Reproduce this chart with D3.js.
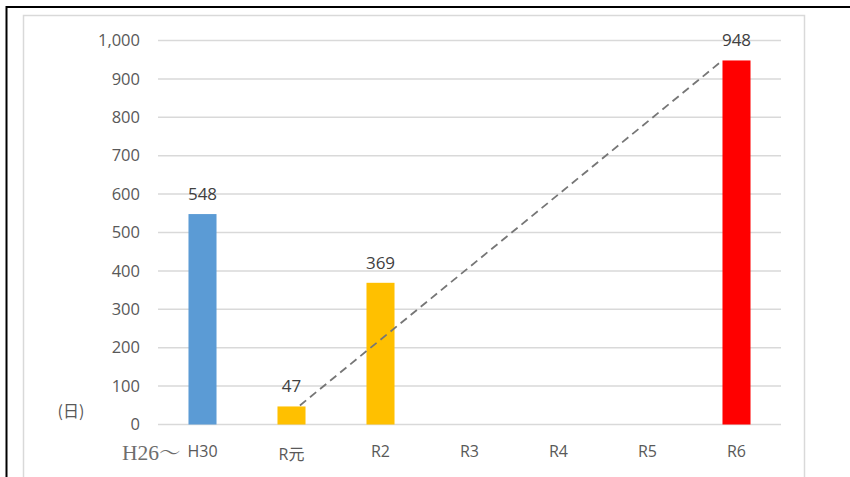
<!DOCTYPE html>
<html>
<head>
<meta charset="utf-8">
<script src="https://cdn.jsdelivr.net/npm/d3@7/dist/d3.min.js"></script>
<style>
  html, body { margin: 0; padding: 0; background: #fff; }
  svg { display: block; }
</style>
</head>
<body>
<svg id="chart" width="850" height="477"></svg>
<script>
// Days per fiscal year
const categories = ["H30", "R元", "R2", "R3", "R4", "R5", "R6"];
const values = [548, 47, 369, null, null, null, 948];
const barColors = ["#5B9BD5", "#FFC000", "#FFC000", "#FFC000", "#FFC000", "#FFC000", "#FF0000"];
const yTicks = [0, 100, 200, 300, 400, 500, 600, 700, 800, 900, 1000];
const yUnit = "(日)";
const periodPrefix = "H26～";
// Dashed trend guide between these two years
const trendFrom = "R元";
const trendTo = "R6";

const svg = d3.select("#chart");
const W = 850, H = 477;
const plot = { left: 158, right: 781, top: 40.5, bottom: 424.5 };

// Outer frame (black, top and left) and inner chart area border (grey)
svg.append("path")
  .attr("d", `M6.5,${H} V7 H${W}`)
  .attr("fill", "none").attr("stroke", "#000").attr("stroke-width", 2);
svg.append("path")
  .attr("d", `M23.5,${H + 5} V15.5 H804.5 V${H + 5}`)
  .attr("fill", "none").attr("stroke", "#D9D9D9").attr("stroke-width", 1.5);

const x = d3.scaleBand()
  .domain(categories)
  .range([plot.left, plot.right])
  .paddingInner(0.685)
  .paddingOuter(0.3425);

const y = d3.scaleLinear().domain([0, 1000]).range([plot.bottom, plot.top]);

// Horizontal gridlines
svg.append("g")
  .selectAll("line")
  .data(yTicks)
  .join("line")
  .attr("x1", plot.left).attr("x2", plot.right)
  .attr("y1", d => y(d)).attr("y2", d => y(d))
  .attr("stroke", "#D9D9D9").attr("stroke-width", 1.5);

// Y axis labels
const yAxis = d3.axisLeft(y).tickValues(yTicks).tickFormat(d3.format(",")).tickSize(0).tickPadding(0);
const gy = svg.append("g").attr("transform", "translate(140,0)").call(yAxis);
gy.select(".domain").remove();
gy.selectAll("text")
  .attr("fill", "#595959")
  .attr("font-family", "'Open Sans', 'Noto Sans', sans-serif")
  .attr("font-size", 16.5);

// Unit label
svg.append("text")
  .attr("x", 71).attr("y", 410)
  .attr("text-anchor", "middle").attr("dominant-baseline", "central")
  .attr("fill", "#595959")
  .attr("font-family", "'Noto Sans CJK JP', sans-serif")
  .attr("font-size", 16)
  .text(yUnit);

// Bars
const data = categories.map((c, i) => ({ c, v: values[i], color: barColors[i] }));
svg.append("g")
  .selectAll("rect")
  .data(data.filter(d => d.v != null))
  .join("rect")
  .attr("x", d => x(d.c))
  .attr("width", x.bandwidth())
  .attr("y", d => y(d.v))
  .attr("height", d => y(0) - y(d.v))
  .attr("fill", d => d.color);

// Value labels
svg.append("g")
  .selectAll("text")
  .data(data.filter(d => d.v != null))
  .join("text")
  .attr("x", d => x(d.c) + x.bandwidth() / 2)
  .attr("y", d => y(d.v) - 14)
  .attr("text-anchor", "middle")
  .attr("fill", "#404040")
  .attr("font-family", "'Open Sans', 'Noto Sans', sans-serif")
  .attr("font-size", 17)
  .text(d => d.v);

// Category labels
const xAxis = d3.axisBottom(x).tickSize(0).tickPadding(0);
const gx = svg.append("g").attr("transform", `translate(0,${plot.bottom})`).call(xAxis);
gx.select(".domain").remove();
gx.selectAll("text")
  .attr("dy", null)
  .attr("y", d => /[^\x00-\x7F]/.test(d) ? 35 : 32.5)
  .attr("fill", "#595959")
  .attr("font-family", "'Open Sans', 'Noto Sans CJK JP', sans-serif")
  .attr("font-size", 16);

// Period prefix before the first category
svg.append("text")
  .attr("x", 122).attr("y", 460)
  .attr("fill", "#6E6E6E")
  .attr("font-family", "'Liberation Serif', 'Noto Serif CJK JP', serif")
  .attr("font-size", 21.5)
  .text(periodPrefix);

// Dashed guide from the R元 bar top to the R6 bar top
const vFrom = values[categories.indexOf(trendFrom)];
const vTo = values[categories.indexOf(trendTo)];
svg.append("line")
  .attr("x1", x(trendFrom) + x.bandwidth() * 0.8).attr("y1", y(vFrom) - 1)
  .attr("x2", x(trendTo)).attr("y2", y(vTo))
  .attr("stroke", "#767676").attr("stroke-width", 1.8)
  .attr("stroke-dasharray", "8,5");
</script>
</body>
</html>
